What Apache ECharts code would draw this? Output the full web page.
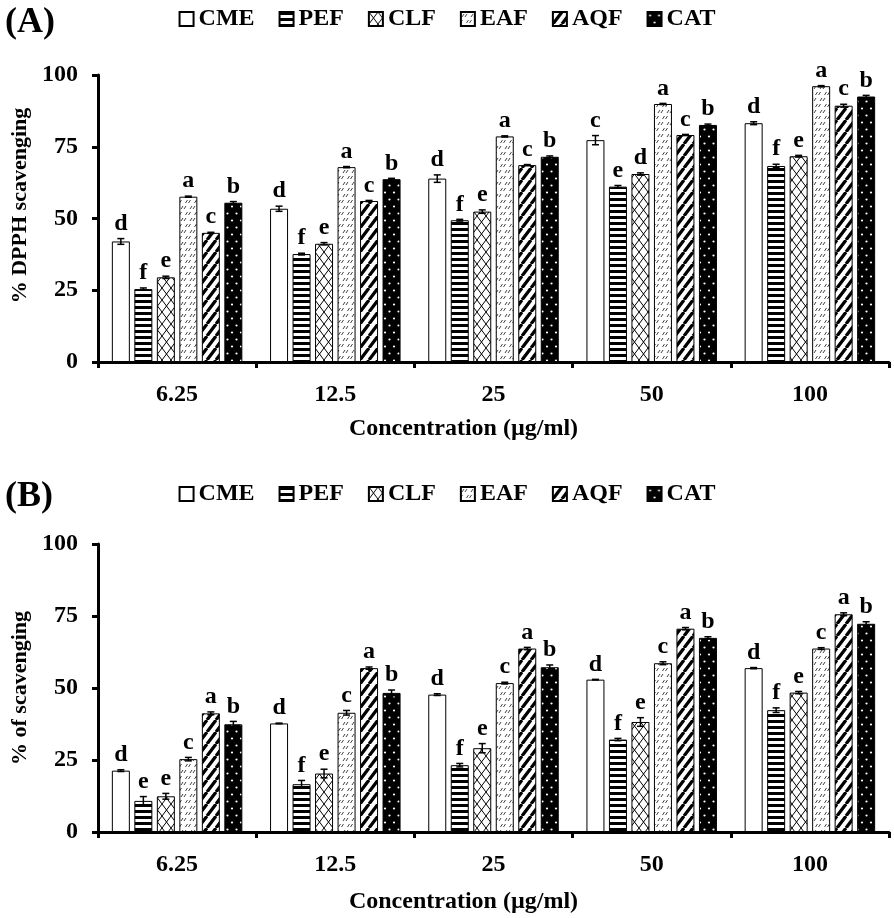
<!DOCTYPE html>
<html>
<head>
<meta charset="utf-8">
<script src="https://cdn.jsdelivr.net/npm/echarts@6/dist/echarts.min.js"></script>
<style>
html,body{margin:0;padding:0;background:#fff;}
#chart{width:894px;height:918px;}
</style>
</head>
<body>
<div id="chart"></div>
<script>
// ---------- DATA ----------
const categories = ['6.25', '12.5', '25', '50', '100'];
const seriesNames = ['CME', 'PEF', 'CLF', 'EAF', 'AQF', 'CAT'];
const yTicks = [0, 25, 50, 75, 100];

// Panel A: % DPPH scavenging
const dpphCME = [42.0, 53.4, 63.9, 77.3, 83.2];
const dpphPEF = [25.4, 37.6, 49.4, 61.1, 68.3];
const dpphCLF = [29.5, 41.2, 52.4, 65.5, 71.7];
const dpphEAF = [57.6, 67.9, 78.6, 89.9, 96.1];
const dpphAQF = [45.0, 56.1, 68.6, 79.1, 89.3];
const dpphCAT = [55.5, 63.7, 71.5, 82.6, 92.5];

const dpphErrCME = [1.0, 0.9, 1.3, 1.6, 0.5];
const dpphErrPEF = [0.4, 0.3, 0.3, 0.4, 0.6];
const dpphErrCLF = [0.4, 0.4, 0.6, 0.4, 0.3];
const dpphErrEAF = [0.2, 0.2, 0.2, 0.2, 0.2];
const dpphErrAQF = [0.2, 0.2, 0.2, 0.2, 0.5];
const dpphErrCAT = [0.4, 0.3, 0.3, 0.3, 0.4];

const dpphLetCME = ['d', 'd', 'd', 'c', 'd'];
const dpphLetPEF = ['f', 'f', 'f', 'e', 'f'];
const dpphLetCLF = ['e', 'e', 'e', 'd', 'e'];
const dpphLetEAF = ['a', 'a', 'a', 'a', 'a'];
const dpphLetAQF = ['c', 'c', 'c', 'c', 'c'];
const dpphLetCAT = ['b', 'b', 'b', 'b', 'b'];

// Panel B: % of scavenging
const scavCME = [21.3, 37.7, 47.7, 52.9, 56.9];
const scavPEF = [10.8, 16.6, 23.2, 32.1, 42.3];
const scavCLF = [12.4, 20.3, 29.1, 38.2, 48.4];
const scavEAF = [25.3, 41.4, 51.7, 58.6, 63.7];
const scavAQF = [41.2, 56.9, 63.7, 70.6, 75.6];
const scavCAT = [37.4, 48.3, 57.2, 67.4, 72.3];

const scavErrCME = [0.3, 0.1, 0.3, 0.1, 0.2];
const scavErrPEF = [1.5, 1.3, 0.6, 0.4, 0.8];
const scavErrCLF = [1.0, 1.5, 1.6, 1.5, 0.4];
const scavErrEAF = [0.6, 0.8, 0.3, 0.5, 0.3];
const scavErrAQF = [0.5, 0.4, 0.4, 0.4, 0.5];
const scavErrCAT = [1.0, 1.0, 0.8, 0.4, 0.7];

const scavLetCME = ['d', 'd', 'd', 'd', 'd'];
const scavLetPEF = ['e', 'f', 'f', 'f', 'f'];
const scavLetCLF = ['e', 'e', 'e', 'e', 'e'];
const scavLetEAF = ['c', 'c', 'c', 'c', 'c'];
const scavLetAQF = ['a', 'a', 'a', 'a', 'a'];
const scavLetCAT = ['b', 'b', 'b', 'b', 'b'];

// ---------- STYLE ----------
const FONT = '"Liberation Serif", "Times New Roman", serif';
const BAR_W = 18;
const GAP_W = 4.5;

function makePattern(w, h, draw) {
  const c = document.createElement('canvas');
  c.width = w; c.height = h;
  const ctx = c.getContext('2d');
  draw(ctx, w, h);
  return { image: c, repeat: 'repeat' };
}

const patterns = [
  '#ffffff',
  makePattern(8, 6, (ctx, w, h) => {
    ctx.fillStyle = '#fff'; ctx.fillRect(0, 0, w, h);
    ctx.fillStyle = '#000'; ctx.fillRect(0, 0, w, 3);
  }),
  makePattern(9, 12, (ctx, w, h) => {
    ctx.fillStyle = '#fff'; ctx.fillRect(0, 0, w, h);
    ctx.strokeStyle = '#000'; ctx.lineWidth = 1;
    ctx.beginPath();
    ctx.moveTo(0, 0); ctx.lineTo(w, h);
    ctx.moveTo(w, 0); ctx.lineTo(0, h);
    ctx.stroke();
  }),
  makePattern(9, 12, (ctx, w, h) => {
    ctx.fillStyle = '#fff'; ctx.fillRect(0, 0, w, h);
    ctx.strokeStyle = '#444'; ctx.lineWidth = 1;
    ctx.beginPath();
    ctx.moveTo(1, 5); ctx.lineTo(3, 2);
    ctx.moveTo(4, 5); ctx.lineTo(6, 2);
    ctx.moveTo(5.5, 11); ctx.lineTo(7.5, 8);
    ctx.moveTo(8.5, 11); ctx.lineTo(10.5, 8);
    ctx.moveTo(-0.5, 11); ctx.lineTo(1.5, 8);
    ctx.stroke();
  }),
  makePattern(9, 12, (ctx, w, h) => {
    ctx.fillStyle = '#fff'; ctx.fillRect(0, 0, w, h);
    ctx.strokeStyle = '#000'; ctx.lineWidth = 3.2;
    ctx.beginPath();
    for (let k = -1; k <= 1; k++) {
      ctx.moveTo(k * w, h); ctx.lineTo(k * w + w, 0);
    }
    ctx.stroke();
  }),
  makePattern(9, 14, (ctx, w, h) => {
    ctx.fillStyle = '#000'; ctx.fillRect(0, 0, w, h);
    ctx.fillStyle = '#fff';
    ctx.beginPath(); ctx.arc(2.5, 3.5, 1.1, 0, Math.PI * 2); ctx.fill();
    ctx.beginPath(); ctx.arc(7, 10.5, 1.1, 0, Math.PI * 2); ctx.fill();
  })
];

const panels = [
  {
    values: [dpphCME, dpphPEF, dpphCLF, dpphEAF, dpphAQF, dpphCAT],
    errors: [dpphErrCME, dpphErrPEF, dpphErrCLF, dpphErrEAF, dpphErrAQF, dpphErrCAT],
    letters: [dpphLetCME, dpphLetPEF, dpphLetCLF, dpphLetEAF, dpphLetAQF, dpphLetCAT],
    yName: '% DPPH scavenging', tag: '(A)',
    grid: { left: 98, right: 5, top: 75, height: 287 },
    legendTop: 2, tagTop: 0
  },
  {
    values: [scavCME, scavPEF, scavCLF, scavEAF, scavAQF, scavCAT],
    errors: [scavErrCME, scavErrPEF, scavErrCLF, scavErrEAF, scavErrAQF, scavErrCAT],
    letters: [scavLetCME, scavLetPEF, scavLetCLF, scavLetEAF, scavLetAQF, scavLetCAT],
    yName: '% of scavenging', tag: '(B)',
    grid: { left: 98, right: 5, top: 544, height: 288 },
    legendTop: 477, tagTop: 474
  }
];

const grids = [], xAxes = [], yAxes = [], series = [], legends = [], titles = [];

panels.forEach((p, pi) => {
  grids.push(p.grid);
  titles.push({
    text: p.tag, left: 0, top: p.tagTop,
    textStyle: { fontFamily: FONT, fontWeight: 'bold', fontSize: 36, color: '#000' }
  });
  legends.push({
    data: seriesNames, top: p.legendTop, left: 'center',
    icon: 'rect', itemWidth: 14, itemHeight: 14, itemGap: 24,
    selectedMode: false,
    textStyle: { fontFamily: FONT, fontWeight: 'bold', fontSize: 24, color: '#000' }
  });
  xAxes.push({
    type: 'category', gridIndex: pi, data: categories,
    name: 'Concentration (µg/ml)', nameLocation: 'middle', nameGap: pi === 0 ? 55 : 58,
    nameTextStyle: { fontFamily: FONT, fontWeight: 'bold', fontSize: 24, color: '#000',
      padding: [0, 60, 0, 0] },
    axisLine: { lineStyle: { color: '#000', width: 3 } },
    axisTick: { show: true, length: 6, lineStyle: { color: '#000', width: 3 } },
    axisLabel: { fontFamily: FONT, fontWeight: 'bold', fontSize: 24, color: '#000', margin: 21 }
  });
  yAxes.push({
    type: 'value', gridIndex: pi, min: yTicks[0], max: yTicks[yTicks.length - 1], interval: 25,
    name: p.yName, nameLocation: 'middle', nameGap: 60,
    nameTextStyle: { fontFamily: FONT, fontWeight: 'bold', fontSize: 22, color: '#000',
      padding: pi === 0 ? [0, 0, 0, 26] : 0 },
    axisLine: { show: true, lineStyle: { color: '#000', width: 3 } },
    axisTick: { show: true, length: 6, lineStyle: { color: '#000', width: 3 } },
    splitLine: { show: false },
    axisLabel: { fontFamily: FONT, fontWeight: 'bold', fontSize: 24, color: '#000', margin: 20 }
  });

  p.values.forEach((vals, si) => {
    series.push({
      name: seriesNames[si], type: 'bar', xAxisIndex: pi, yAxisIndex: pi,
      data: vals, barWidth: BAR_W, barGap: '25%',
      itemStyle: { color: patterns[si], borderColor: '#000', borderWidth: 1 },
      emphasis: { disabled: true }, silent: true
    });
  });

  const errData = [];
  p.values.forEach((vals, si) => {
    vals.forEach((v, ci) => errData.push([ci, si, v, p.errors[si][ci]]));
  });
  const lets = p.letters;
  series.push({
    type: 'custom', xAxisIndex: pi, yAxisIndex: pi, data: errData,
    encode: { x: 0, y: 2 }, clip: false, z: 10, silent: true,
    renderItem: function (params, api) {
      const ci = api.value(0), si = api.value(1), v = api.value(2), e = api.value(3);
      const total = 6 * BAR_W + 5 * GAP_W;
      const off = -total / 2 + BAR_W / 2 + si * (BAR_W + GAP_W);
      const base = api.coord([ci, v]);
      const x = base[0] + off;
      const yTop = api.coord([ci, v + e])[1];
      const yBot = api.coord([ci, v - e])[1];
      const cap = 3.5;
      const ls = { stroke: '#000', lineWidth: 1.5 };
      return {
        type: 'group',
        children: [
          { type: 'line', shape: { x1: x, y1: yTop, x2: x, y2: yBot }, style: ls },
          { type: 'line', shape: { x1: x - cap, y1: yTop, x2: x + cap, y2: yTop }, style: ls },
          { type: 'line', shape: { x1: x - cap, y1: yBot, x2: x + cap, y2: yBot }, style: ls },
          { type: 'text', style: {
              text: lets[si][ci], x: x, y: yTop - 3,
              align: 'center', verticalAlign: 'bottom',
              fontFamily: FONT, fontWeight: 'bold', fontSize: 24, fill: '#000'
          } }
        ]
      };
    }
  });
});

const chart = echarts.init(document.getElementById('chart'), null, { renderer: 'canvas' });
chart.setOption({
  animation: false,
  backgroundColor: '#fff',
  title: titles,
  legend: legends,
  grid: grids,
  xAxis: xAxes,
  yAxis: yAxes,
  series: series
});
</script>
</body>
</html>
